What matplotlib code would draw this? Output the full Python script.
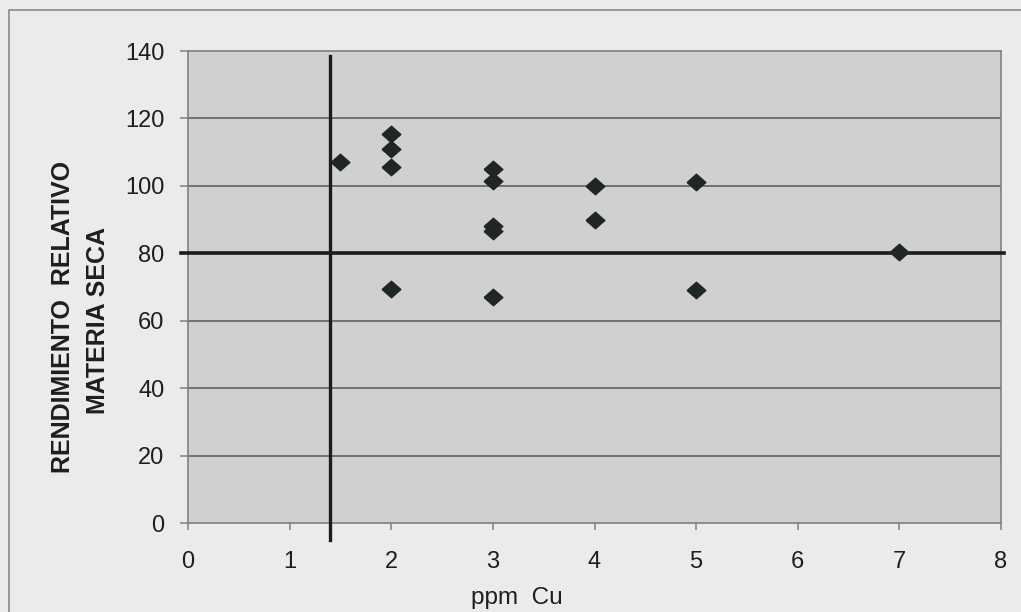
import matplotlib
matplotlib.use("Agg")
import matplotlib.pyplot as plt
from matplotlib.patches import Rectangle

plt.rcParams['font.family'] = ['Liberation Sans', 'DejaVu Sans']

# Copper in soil (ppm) vs. relative dry-matter yield
ppm_cu = [1.5, 2, 2, 2, 2, 3, 3, 3, 3, 3, 4, 4, 5, 5, 7]
rendimiento = [107, 115.5, 111, 105.5, 69.5, 105, 101.5, 88, 86.5, 67, 100, 90, 101, 69, 80.5]

x_ticks = [0, 1, 2, 3, 4, 5, 6, 7, 8]
y_ticks = [0, 20, 40, 60, 80, 100, 120, 140]

critical_cu = 1.4
critical_yield = 80

fig = plt.figure(figsize=(10.21, 6.12), dpi=100, facecolor='#e9ecea')
ax = fig.add_axes([188/1021, 1 - 523/612, (1001-188)/1021, (523-51)/612])

ax.set_facecolor('#cfd0cf')
ax.set_xlim(0, 8)
ax.set_ylim(0, 140)
ax.set_xticks(x_ticks)
ax.set_yticks(y_ticks)

for v in y_ticks[1:-1]:
    ax.axhline(v, color='#6a6a6a', lw=1.3, zorder=1)

for s in ax.spines.values():
    s.set_color('#808080')
    s.set_linewidth(1.2)

ax.tick_params(axis='y', direction='out', length=6, width=1.1, color='#808080',
               pad=11, labelsize=17, labelcolor='#1e1e1e')
ax.tick_params(axis='x', direction='out', length=5, width=1.1, color='#808080',
               pad=15, labelsize=17, labelcolor='#1e1e1e')

# Critical level reference lines
ax.plot([critical_cu, critical_cu], [-5, 138.5], color='#1c1c1c', lw=2.4,
        clip_on=False, zorder=3)
ax.plot([-0.07, 8.03], [critical_yield, critical_yield], color='#1c1c1c', lw=2.6,
        clip_on=False, zorder=3)

diamond = [(-1, 0), (0, 0.88), (1, 0), (0, -0.88), (-1, 0)]
ax.plot(ppm_cu, rendimiento, linestyle='none', marker=diamond, markersize=13.5,
        color='#202626', zorder=4)

fig.text(63/1021, 1 - 317/612, 'RENDIMIENTO  RELATIVO', rotation=90,
         ha='center', va='center', fontsize=18, fontweight='bold', color='#1e1e1e')
fig.text(98/1021, 1 - 320/612, 'MATERIA SECA', rotation=90,
         ha='center', va='center', fontsize=18, fontweight='bold', color='#1e1e1e')
fig.text(517/1021, 1 - 598/612, 'ppm  Cu', ha='center', va='center',
         fontsize=17.5, color='#1e1e1e')

fig.patches.append(Rectangle((9/1021, -0.05), 1.2, 1 - 10/612 + 0.05,
                             transform=fig.transFigure, fill=False,
                             edgecolor='#8a8a8a', lw=1.2))

fig.savefig('out.png', dpi=100, facecolor=fig.get_facecolor())
